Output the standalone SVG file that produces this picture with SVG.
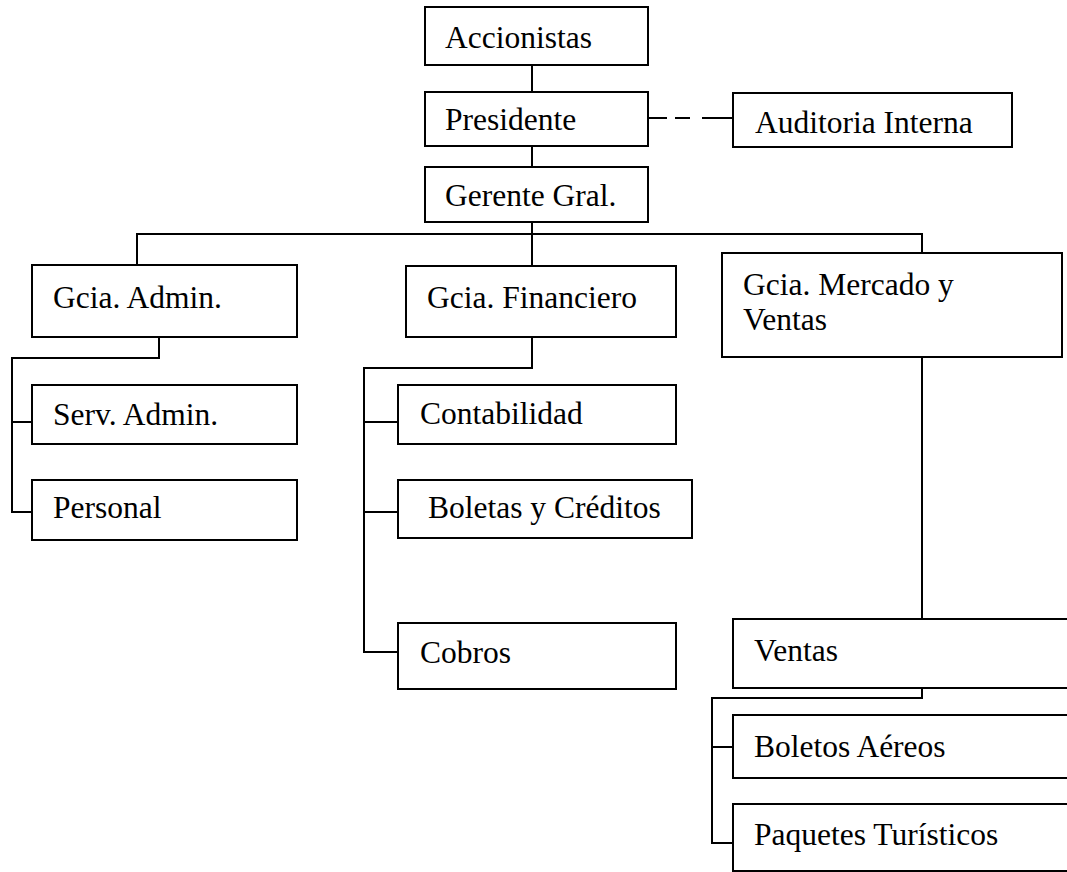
<svg xmlns="http://www.w3.org/2000/svg" width="1067" height="872" viewBox="0 0 1067 872">
  <style>
    .box { fill: #ffffff; stroke: #000000; stroke-width: 2; }
    .link { fill: none; stroke: #000000; stroke-width: 2; }
    text { font-family: "Liberation Serif", "Times New Roman", serif; font-size: 31.5px; fill: #000000; }
  </style>
  <rect width="1067" height="872" fill="#ffffff"/>

  <!-- connectors -->
  <g id="connectors">
    <path class="link" d="M532 65 V92 M532 146 V167 M532 222 V234"/>
    <path class="link" d="M648 118 H667 M675 118 H690 M702 118 H733"/>
    <path class="link" d="M137 265 V234 H922 V253"/>
    <path class="link" d="M532 234 V266"/>
    <path class="link" d="M159 337 V358 H12 V512 H32 M12 422 H32"/>
    <path class="link" d="M532 337 V368 H364 V652 H398 M364 422 H398 M364 512 H398"/>
    <path class="link" d="M922 357 V619"/>
    <path class="link" d="M922 688 V698 H712 V843 H733 M712 747 H733"/>
  </g>

  <g id="accionistas">
    <rect class="box" x="425" y="7" width="223" height="58"/>
    <text x="445" y="48">Accionistas</text>
  </g>
  <g id="presidente">
    <rect class="box" x="425" y="92" width="223" height="54"/>
    <text x="445" y="130">Presidente</text>
  </g>
  <g id="auditoria">
    <rect class="box" x="733" y="93" width="279" height="54"/>
    <text x="755" y="133">Auditoria Interna</text>
  </g>
  <g id="gerente">
    <rect class="box" x="425" y="167" width="223" height="55"/>
    <text x="445" y="206">Gerente Gral.</text>
  </g>

  <g id="gcia-admin">
    <rect class="box" x="32" y="265" width="265" height="72"/>
    <text x="53" y="308">Gcia. Admin.</text>
  </g>
  <g id="serv-admin">
    <rect class="box" x="32" y="385" width="265" height="59"/>
    <text x="53" y="425">Serv. Admin.</text>
  </g>
  <g id="personal">
    <rect class="box" x="32" y="480" width="265" height="60"/>
    <text x="53" y="518">Personal</text>
  </g>

  <g id="gcia-financiero">
    <rect class="box" x="406" y="266" width="270" height="71"/>
    <text x="427" y="308">Gcia. Financiero</text>
  </g>
  <g id="contabilidad">
    <rect class="box" x="398" y="385" width="278" height="59"/>
    <text x="420" y="424">Contabilidad</text>
  </g>
  <g id="boletas-creditos">
    <rect class="box" x="398" y="480" width="294" height="58"/>
    <text x="428" y="518">Boletas y Créditos</text>
  </g>
  <g id="cobros">
    <rect class="box" x="398" y="623" width="278" height="66"/>
    <text x="420" y="663">Cobros</text>
  </g>

  <g id="gcia-mercado">
    <rect class="box" x="722" y="253" width="340" height="104"/>
    <text x="743" y="295">Gcia. Mercado y</text>
    <text x="743" y="330">Ventas</text>
  </g>
  <g id="ventas">
    <rect class="box" x="733" y="619" width="350" height="69"/>
    <text x="754" y="661">Ventas</text>
  </g>
  <g id="boletos-aereos">
    <rect class="box" x="733" y="715" width="350" height="63"/>
    <text x="754" y="757">Boletos Aéreos</text>
  </g>
  <g id="paquetes">
    <rect class="box" x="733" y="804" width="350" height="67"/>
    <text x="754" y="845">Paquetes Turísticos</text>
  </g>
</svg>
